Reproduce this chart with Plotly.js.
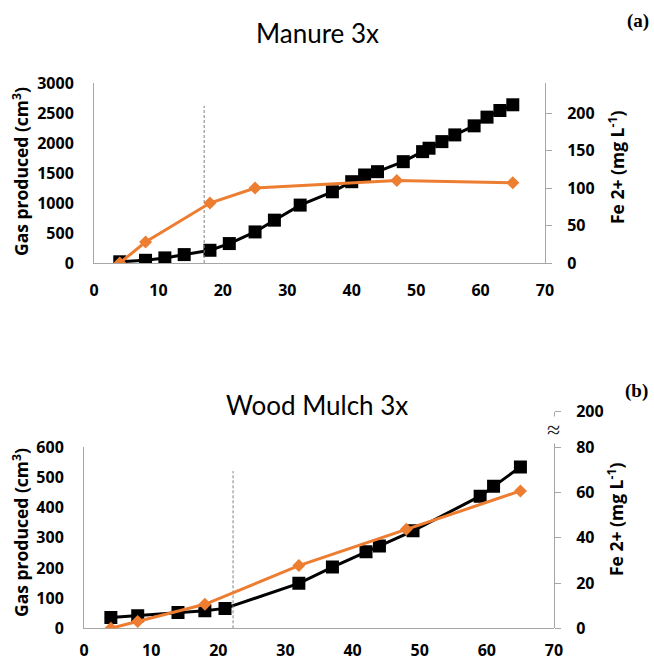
<!DOCTYPE html>
<html>
<head>
<meta charset="utf-8">
<script src="https://cdn.plot.ly/plotly-3.0.1.min.js"></script>
<style>html,body{margin:0;padding:0;background:#fff}#chart{width:654px;height:660px}</style>
</head>
<body>
<div id="chart"></div>
<script>
// ---- Data: (a) Manure 3x ----
var manureGasDays = [4, 8, 11, 14, 18, 21, 25, 28, 32, 37, 40, 42, 44, 48, 51, 52, 54, 56, 59, 61, 63, 65];
var manureGas     = [20, 45, 85, 140, 212, 324, 518, 714, 965, 1187, 1355, 1467, 1522, 1689, 1856, 1913, 2023, 2135, 2286, 2431, 2542, 2637];
var manureFeDays  = [4, 8, 18, 25, 47, 65];
var manureFe      = [0, 28, 80, 100, 110, 107];
var manureMarkX   = [17.1, 17.1];
var manureMarkY   = [0, 2620];

// ---- Data: (b) Wood Mulch 3x ----
var woodGasDays = [4, 8, 14, 18, 21, 32, 37, 42, 44, 49, 59, 61, 65];
var woodGas     = [36, 42, 52, 58, 66, 149, 203, 254, 273, 323, 438, 471, 535];
var woodFeDays  = [4, 8, 18, 32, 48, 65];
var woodFe      = [0, 3, 10.6, 27.7, 43.8, 60.7];
var woodMarkX   = [22.2, 22.2];
var woodMarkY   = [0, 521];

// tick labels
var xTicks      = [0, 10, 20, 30, 40, 50, 60, 70];
var gasTicksA   = [0, 500, 1000, 1500, 2000, 2500, 3000];
var feTicksA    = [0, 50, 100, 150, 200];
var gasTicksB   = [0, 100, 200, 300, 400, 500, 600];
var feTickValsB = [0, 20, 40, 60, 80, 95.7];
var feTickTextB = ['0', '20', '40', '60', '80', '200'];

var W = 654, H = 660;
function px(x) { return x / W; }
function py(y) { return 1 - y / H; }

var black = '#000000', orange = '#ED7D31', axisGray = '#a6a6a6';
var tickFont = {family: 'Open Sans', size: 16, weight: 700, color: '#000'};
var titleFont = {family: 'Open Sans', size: 17.5, weight: 700, color: '#000'};

var traces = [
  {x: manureGasDays, y: manureGas, xaxis: 'x', yaxis: 'y', mode: 'lines+markers',
   line: {color: black, width: 3}, marker: {symbol: 'square', size: 13, color: black}},
  {x: manureFeDays, y: manureFe, xaxis: 'x', yaxis: 'y2', mode: 'lines+markers',
   line: {color: orange, width: 3}, marker: {symbol: 'diamond', size: 10, color: orange}},
  {x: manureMarkX, y: manureMarkY, xaxis: 'x', yaxis: 'y', mode: 'lines',
   line: {color: '#808080', width: 1, dash: '3px,2px'}},
  {x: woodGasDays, y: woodGas, xaxis: 'x2', yaxis: 'y3', mode: 'lines+markers',
   line: {color: black, width: 3}, marker: {symbol: 'square', size: 13, color: black}},
  {x: woodFeDays, y: woodFe, xaxis: 'x2', yaxis: 'y4', mode: 'lines+markers',
   line: {color: orange, width: 3}, marker: {symbol: 'diamond', size: 10, color: orange}},
  {x: woodMarkX, y: woodMarkY, xaxis: 'x2', yaxis: 'y3', mode: 'lines',
   line: {color: '#808080', width: 1, dash: '3px,2px'}}
];

function xAxis(domain, anchor, standoff) {
  return {domain: domain, anchor: anchor, range: [0, 70], tickvals: xTicks, ticks: '',
    showline: true, linecolor: axisGray, linewidth: 1, showgrid: false, zeroline: false,
    tickfont: tickFont, ticklabelstandoff: standoff, fixedrange: true};
}

function ann(text, x, y, font, extra) {
  var a = {text: text, xref: 'paper', yref: 'paper', x: px(x), y: py(y), showarrow: false,
    xanchor: 'center', yanchor: 'middle', font: font};
  for (var k in (extra || {})) a[k] = extra[k];
  return a;
}

var layout = {
  width: W, height: H, margin: {l: 0, r: 0, t: 0, b: 0},
  paper_bgcolor: '#fff', plot_bgcolor: 'rgba(0,0,0,0)', showlegend: false,
  xaxis: xAxis([px(94), px(545)], 'y', 13),
  yaxis: {domain: [py(263), py(83)], anchor: 'x', range: [0, 3000], tickvals: gasTicksA, ticks: '',
    showline: true, linecolor: axisGray, linewidth: 1, showgrid: false, zeroline: false,
    tickfont: tickFont, ticklabelstandoff: 16},
  yaxis2: {overlaying: 'y', anchor: 'x', side: 'right', range: [0, 240], tickvals: feTicksA,
    ticks: 'outside', ticklen: 6, tickcolor: axisGray, showline: true, linecolor: axisGray, linewidth: 1,
    showgrid: false, zeroline: false, tickfont: tickFont, ticklabelstandoff: 12},
  xaxis2: xAxis([px(84), px(554)], 'y3', 7),
  yaxis3: {domain: [py(628.3), py(447.3)], anchor: 'x2', range: [0, 600], tickvals: gasTicksB, ticks: '',
    showline: true, linecolor: axisGray, linewidth: 1, showgrid: false, zeroline: false,
    tickfont: tickFont, ticklabelstandoff: 16},
  yaxis4: {domain: [py(628.3), py(411.5)], anchor: 'x2', side: 'right', range: [0, 95.8],
    tickvals: feTickValsB, ticktext: feTickTextB,
    ticks: 'outside', ticklen: 6, tickcolor: axisGray, showline: true, linecolor: axisGray, linewidth: 1,
    showgrid: false, zeroline: false, tickfont: tickFont, ticklabelstandoff: 12},
  annotations: [
    ann('Manure 3x', 317, 33, {family: 'Lato', size: 26, color: '#000'}),
    ann('Wood Mulch 3x', 317, 405, {family: 'Lato', size: 26, color: '#000'}),
    ann('<b>(a)</b>', 638, 21, {family: 'Liberation Serif', size: 19, color: '#000'}),
    ann('<b>(b)</b>', 636, 391, {family: 'Liberation Serif', size: 19, color: '#000'}),
    ann('Gas produced (cm<sup>3</sup>)', 20, 172, titleFont, {textangle: -90}),
    ann('Fe 2+ (mg L<sup>-1</sup>)', 617, 168, titleFont, {textangle: -90}),
    ann('Gas produced (cm<sup>3</sup>)', 20, 533, titleFont, {textangle: -90}),
    ann('Fe 2+ (mg L<sup>-1</sup>)', 615, 520, titleFont, {textangle: -90}),
    ann('\u2248', 553, 430, {family: 'Liberation Serif', size: 24, color: '#222'}, {bgcolor: '#fff', borderpad: 0})
  ]
};

Plotly.newPlot('chart', traces, layout, {displayModeBar: false, staticPlot: true});
</script>
</body>
</html>
